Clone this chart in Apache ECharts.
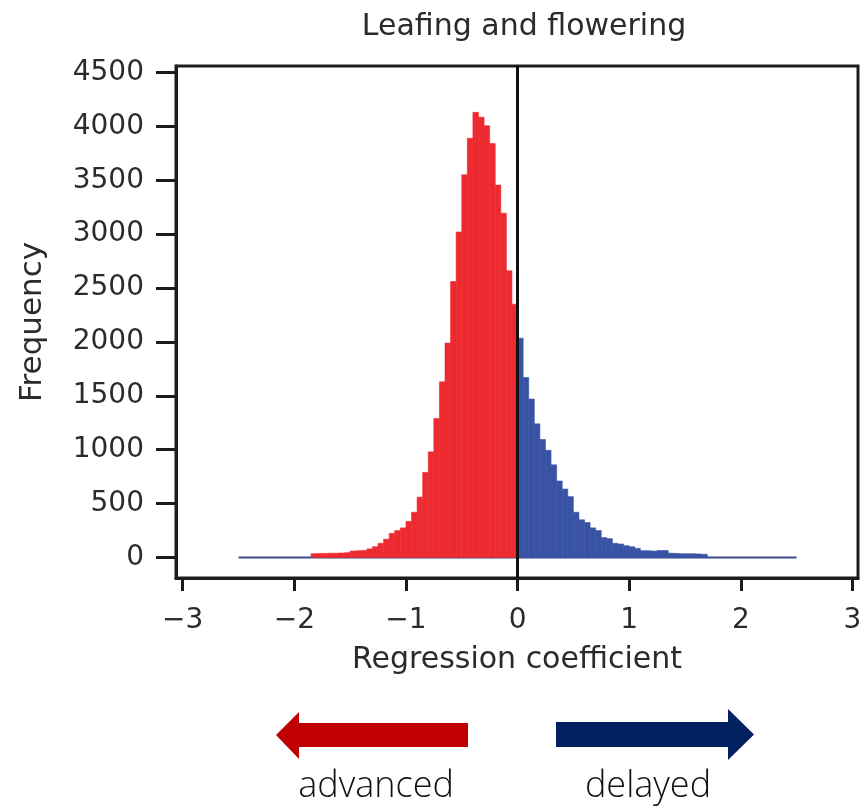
<!DOCTYPE html>
<html>
<head>
<meta charset="utf-8">
<title>Leafing and flowering</title>
<script src="https://cdn.jsdelivr.net/npm/echarts@6/dist/echarts.min.js"></script>
<style>
  html, body { margin: 0; padding: 0; background: #fff; }
  #chart { width: 862px; height: 811px; }
</style>
</head>
<body>
<div id="chart"></div>
<script>
// histogram bins are 0.05 wide; red = negative coefficients, blue = positive
const binWidth = 0.05
const redStart = -1.85
const redFreq = [35, 38, 38, 40, 40, 42, 45, 60, 63, 66, 80, 100, 132, 170, 224, 250, 275, 335, 420, 560,
  790, 980, 1290, 1630, 1990, 2560, 3020, 3550, 3890, 4130, 4085, 4005, 3840, 3455, 3195, 2660, 2350]
const blueStart = 0
const blueFreq = [2035, 1670, 1470, 1240, 1095, 995, 860, 710, 635, 565, 420, 350, 325, 275, 250, 185, 175,
  132, 125, 110, 100, 85, 63, 63, 60, 65, 65, 40, 38, 35, 35, 35, 33, 30]
// thin baseline drawn across the full range of coefficients
const baseRange = [-2.5, 2.5]

const xTicks = [-3, -2, -1, 0, 1, 2, 3]
const yTicks = [0, 500, 1000, 1500, 2000, 2500, 3000, 3500, 4000, 4500]

const axisColor = '#1c1c1c'
const textColor = '#2b2b2b'
const font = '"DejaVu Sans", "Liberation Sans", sans-serif'

function toBins(start, freq) {
  return freq.map((v, i) => {
    const a = +(start + i * binWidth).toFixed(2)
    return [a, +(a + binWidth).toFixed(2), v]
  })
}

function renderBin(params, api) {
  const p0 = api.coord([api.value(0), api.value(2)])
  const p1 = api.coord([api.value(1), 0])
  const color = api.visual('color')
  return {
    type: 'rect',
    shape: { x: p0[0], y: p0[1], width: p1[0] - p0[0], height: p1[1] - p0[1] },
    style: { fill: color, stroke: color, lineWidth: 0.6 }
  }
}

const chart = echarts.init(document.getElementById('chart'))

chart.setOption({
  animation: false,
  title: {
    text: 'Leafing and flowering',
    left: 519,
    top: 7,
    textAlign: 'center',
    textStyle: { fontFamily: font, fontSize: 30, fontWeight: 'normal', color: textColor }
  },
  grid: {
    left: 176, top: 66, width: 682, height: 512,
    containLabel: false,
    outerBoundsMode: 'none',
    show: true,
    borderColor: axisColor,
    borderWidth: 3
  },
  xAxis: {
    type: 'value',
    min: -3.06,
    max: 3.05,
    name: 'Regression coefficient',
    nameLocation: 'middle',
    nameGap: 67,
    nameTextStyle: { fontFamily: font, fontSize: 30, color: textColor },
    splitLine: { show: false },
    axisLine: { onZero: false, lineStyle: { color: axisColor, width: 3 } },
    axisTick: { customValues: xTicks, length: 13, lineStyle: { color: axisColor, width: 3 } },
    axisLabel: {
      customValues: xTicks,
      margin: 29,
      fontFamily: font,
      fontSize: 28,
      color: textColor,
      formatter: v => (v < 0 ? '\u2212' + Math.abs(v) : String(v))
    }
  },
  yAxis: {
    type: 'value',
    min: -190,
    max: 4560,
    name: 'Frequency',
    nameLocation: 'middle',
    nameGap: 128,
    nameTextStyle: { fontFamily: font, fontSize: 31, color: textColor },
    splitLine: { show: false },
    axisLine: { onZero: false, lineStyle: { color: axisColor, width: 3 } },
    axisTick: { customValues: yTicks, length: 20, lineStyle: { color: axisColor, width: 3 } },
    axisLabel: {
      customValues: yTicks,
      margin: 32,
      fontFamily: font,
      fontSize: 28,
      color: textColor,
      formatter: v => String(v)
    }
  },
  series: [
    {
      // zero line sits behind the bars
      type: 'line',
      z: 1,
      data: [],
      markLine: {
        silent: true,
        symbol: 'none',
        label: { show: false },
        lineStyle: { color: '#111', width: 3, type: 'solid' },
        data: [{ xAxis: 0 }]
      }
    },
    {
      type: 'line',
      z: 2,
      symbol: 'none',
      lineStyle: { color: '#3a4a8e', width: 2 },
      data: [[baseRange[0], 0], [baseRange[1], 0]]
    },
    {
      type: 'custom',
      z: 3,
      renderItem: renderBin,
      itemStyle: { color: '#ec2a30' },
      encode: { x: [0, 1], y: 2 },
      data: toBins(redStart, redFreq)
    },
    {
      type: 'custom',
      z: 3,
      renderItem: renderBin,
      itemStyle: { color: '#3953a4' },
      encode: { x: [0, 1], y: 2 },
      data: toBins(blueStart, blueFreq)
    }
  ],
  graphic: [
    {
      type: 'polygon',
      shape: { points: [[276, 735], [299, 712], [299, 723], [468, 723], [468, 747], [299, 747], [299, 759]] },
      style: { fill: '#c00000' }
    },
    {
      type: 'polygon',
      shape: { points: [[556, 722], [728, 722], [728, 709], [754, 734.5], [728, 760], [728, 747], [556, 747]] },
      style: { fill: '#002060' }
    },
    {
      type: 'text',
      x: 376, y: 787,
      style: { text: 'advanced', font: '300 36px "Open Sans"', fill: '#111', align: 'center', verticalAlign: 'middle' }
    },
    {
      type: 'text',
      x: 648, y: 787,
      style: { text: 'delayed', font: '300 36px "Open Sans"', fill: '#111', align: 'center', verticalAlign: 'middle' }
    }
  ]
})

window.addEventListener('resize', () => chart.resize())
</script>
</body>
</html>
